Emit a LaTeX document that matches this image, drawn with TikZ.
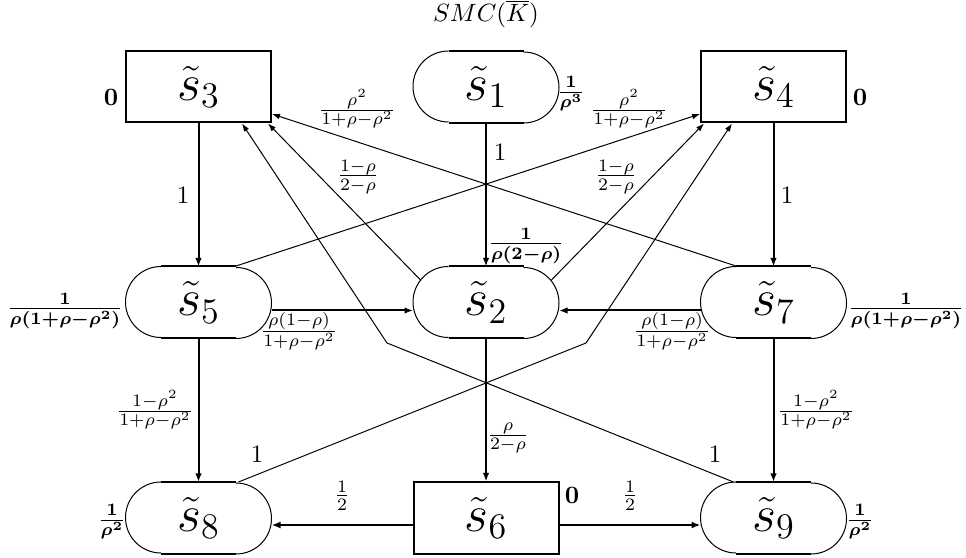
\documentclass[tikz,border=0pt]{standalone}
\usetikzlibrary{arrows.meta,calc}
\begin{document}
\begin{tikzpicture}[x=0.4pt,y=0.4pt,
 box/.style={draw, line width=0.8pt, minimum width=58pt, minimum height=28.4pt, inner sep=0pt, font=\huge},
 stad/.style={minimum width=58pt, minimum height=28.4pt, inner sep=0pt, font=\huge},
 thk/.style={line width=0.8pt, -{Latex[length=3.4pt,width=2.6pt]}},
 thkb/.style={line width=1.1pt, -{Latex[length=3.6pt,width=2.8pt]}},
 thn/.style={line width=0.4pt, -{Latex[length=3.2pt,width=2.3pt]}},
 lab/.style={inner sep=0pt, font=\normalsize},
 blab/.style={inner sep=0pt, font=\normalsize\boldmath}
]
\useasboundingbox (0,0) rectangle (966,-558);
% nodes
\node[lab] (title) at (486,-14) {$SMC(\overline{K})$};
\node[box] (s3) at (198.5,-87) {$\tilde{s}_3$};
\node[stad] (s1) at (486,-87) {$\tilde{s}_1$};
\node[box] (s4) at (773.5,-87) {$\tilde{s}_4$};
\node[stad] (s5) at (198.5,-302.5) {$\tilde{s}_5$};
\node[stad] (s2) at (486,-302.5) {$\tilde{s}_2$};
\node[stad] (s7) at (773.5,-302.5) {$\tilde{s}_7$};
\node[stad] (s8) at (198.5,-518) {$\tilde{s}_8$};
\node[box] (s6) at (486,-518) {$\tilde{s}_6$};
\node[stad] (s9) at (773.5,-518) {$\tilde{s}_9$};
% stadium outlines
\foreach \n in {s1,s2,s5,s7,s8,s9}{
 \draw[line width=0.8pt] ($(\n.north west)+(35.5,0)$) -- ($(\n.north east)+(-35.5,0)$);
 \draw[line width=0.8pt] ($(\n.south west)+(35.5,0)$) -- ($(\n.south east)+(-35.5,0)$);
 \draw[line width=0.4pt] ($(\n.north west)+(35.5,0)$) arc[start angle=90,end angle=270,radius=14.2pt];
 \draw[line width=0.4pt] ($(\n.south east)+(-35.5,0)$) arc[start angle=-90,end angle=90,radius=14.2pt];
}
% bend coordinates
\coordinate (b1) at (387,-343);
\coordinate (b2) at (586,-343);
% thick vertical arrows
\draw[thk] (s3.south) -- (s5.north);
\draw[thk] (s1.south) -- (s2.north);
\draw[thk] (s4.south) -- (s7.north);
\draw[thk] (s5.south) -- (s8.north);
\draw[thk] (s2.south) -- (s6.north);
\draw[thk] (s7.south) -- (s9.north);
% thick horizontal arrows
\draw[thk] ($(s5.east)+(0,-8)$) -- ($(s2.west)+(0,-8)$);
\draw[thk] ($(s7.west)+(0,-8)$) -- ($(s2.east)+(0,-8)$);
\draw[thkb] ($(s6.west)+(0,-7)$) -- ($(s8.east)+(0,-7)$);
\draw[thkb] ($(s6.east)+(0,-7)$) -- ($(s9.west)+(0,-7)$);
% thin arrows
\draw[thn] ($(s7.north)+(-36,0)$) -- ($(s3.south east)+(0,9.5)$);
\draw[thn] ($(s5.north)+(36,0)$) -- ($(s4.south west)+(0,9.5)$);
\draw[thn] ($(s2.center)+(-65,22)$) -- ($(s3.south east)+(-4,0)$);
\draw[thn] ($(s2.center)+(65,22)$) -- ($(s4.south west)+(4,0)$);
\draw[thn] ($(s9.north)+(-40,0)$) -- (b1) -- ($(s3.south)+(43.5,0)$);
\draw[thn] ($(s8.north)+(40,0)$) -- (b2) -- ($(s4.south)+(-41.5,0)$);
% labels
\node[blab] (l0a) at (111,-97) {$0$};
\node[blab] (l0b) at (860,-97) {$0$};
\node[blab] (l0c) at (572,-495) {$0$};
\node[blab] (lr3) at (571,-94) {$\frac{1}{\rho^3}$};
\node[lab] (la) at (357,-109) {$\frac{\rho^2}{1+\rho-\rho^2}$};
\node[lab] (lb) at (629,-109) {$\frac{\rho^2}{1+\rho-\rho^2}$};
\node[lab] (lc) at (358,-177) {$\frac{1-\rho}{2-\rho}$};
\node[lab] (ld) at (616,-177) {$\frac{1-\rho}{2-\rho}$};
\node[lab] (le) at (500,-152) {$1$};
\node[lab] (lf) at (183,-195) {$1$};
\node[lab] (lg) at (787,-195) {$1$};
\node[blab] (lh) at (526,-246) {$\frac{1}{\rho(2-\rho)}$};
\node[blab] (li) at (65,-311) {$\frac{1}{\rho(1+\rho-\rho^2)}$};
\node[blab] (lj) at (906,-311) {$\frac{1}{\rho(1+\rho-\rho^2)}$};
\node[lab] (lk) at (299,-331) {$\frac{\rho(1-\rho)}{1+\rho-\rho^2}$};
\node[lab] (ll) at (672,-331) {$\frac{\rho(1-\rho)}{1+\rho-\rho^2}$};
\node[lab] (lm) at (155,-410) {$\frac{1-\rho^2}{1+\rho-\rho^2}$};
\node[lab] (ln) at (816,-410) {$\frac{1-\rho^2}{1+\rho-\rho^2}$};
\node[lab] (lo) at (508,-438) {$\frac{\rho}{2-\rho}$};
\node[lab] (lp) at (257,-454) {$1$};
\node[lab] (lq) at (715,-454) {$1$};
\node[lab] (lr) at (342,-496) {$\frac{1}{2}$};
\node[lab] (ls) at (630,-496) {$\frac{1}{2}$};
\node[blab] (lt) at (112,-522) {$\frac{1}{\rho^2}$};
\node[blab] (lu) at (860,-522) {$\frac{1}{\rho^2}$};
\end{tikzpicture}
\end{document}
